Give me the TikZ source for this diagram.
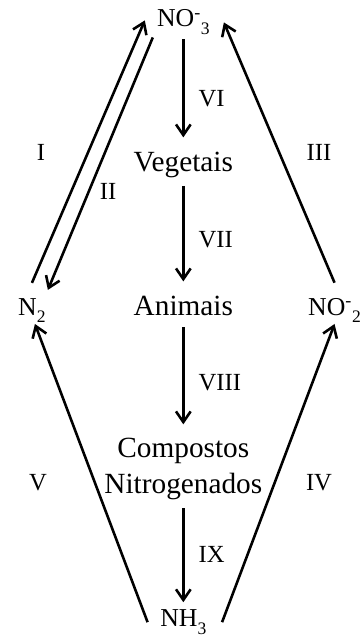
\documentclass[tikz,border=0pt]{standalone}
\usepackage{fontspec}
\setmainfont{Liberation Serif}
\usetikzlibrary{arrows.meta, positioning}

\newcommand{\ionsup}{\textsuperscript{-}}
\newcommand{\ionsub}[1]{\raisebox{-0.3em}{\fontsize{15}{15}\selectfont #1}}

\begin{document}
\begin{tikzpicture}[
    word/.style={inner sep=0pt, anchor=base, align=center, font=\fontsize{25}{30}\selectfont},
    chem/.style={inner sep=0pt, font=\fontsize{22}{26}\selectfont},
    num/.style={inner sep=0pt, font=\fontsize{21}{25}\selectfont},
    arrow/.style={-{Straight Barb[length=3.2mm, width=4.4mm]}, line width=2.2pt},
    flow/.style={arrow, shorten <=2.5mm, shorten >=4.2mm}
]
    \useasboundingbox (0,0) rectangle (10.83,-19.23);

    % central column
    \node[chem, anchor=base] (no3) at (5.5,-0.81) {NO\ionsup\ionsub{3}};
    \node[word] (veg) at (5.5,-5.13) {Vegetais};
    \node[word] (ani) at (5.5,-9.45) {Animais};
    \node[word, anchor=center] (comp) at (5.5,-14.07) {Compostos\\Nitrogenados};
    \node[chem, anchor=base] (nh3) at (5.5,-18.8) {NH\ionsub{3}};

    % sides
    \node[chem, anchor=base west] (n2) at (0.54,-9.45) {N\ionsub{2}};
    \node[chem, anchor=base west] (no2) at (9.24,-9.45) {NO\ionsup\ionsub{2}};

    % roman labels
    \node[num] (lI) at (1.23,-4.56) {I};
    \node[num] (lII) at (3.24,-5.73) {II};
    \node[num] (lIII) at (9.57,-4.56) {III};
    \node[num] (lIV) at (9.57,-14.49) {IV};
    \node[num] (lV) at (1.14,-14.49) {V};

    \draw[flow, shorten <=1.3mm] (no3) -- node[num, right=0.42cm, pos=0.55] (lVI) {VI} (veg);
    \draw[flow] (veg) -- node[num, right=0.42cm, pos=0.53] (lVII) {VII} (ani);
    \draw[flow, shorten <=3.5mm] (ani) -- node[num, right=0.42cm, pos=0.55] (lVIII) {VIII} (comp);
    \draw[flow, shorten >=2.2mm] (comp) -- node[num, right=0.42cm, pos=0.5] (lIX) {IX} (nh3);

    \draw[arrow] ([yshift=0.45cm]n2.north) -- ([shift={(-0.36,0.06)}]no3.west);
    \draw[arrow] ([shift={(-0.12,-0.07)}]no3.south west) -- ([shift={(0.06,0.24)}]n2.north east);
    \draw[arrow] ([yshift=0.45cm]no2.north) -- ([xshift=0.42cm]no3.east);
    \draw[arrow] ([shift={(0.465,0.0)}]nh3.east) -- ([yshift=-0.03cm]no2.south);
    \draw[arrow] ([shift={(-0.375,0.0)}]nh3.west) -- ([shift={(0.09,-0.03)}]n2.south);
\end{tikzpicture}
\end{document}
